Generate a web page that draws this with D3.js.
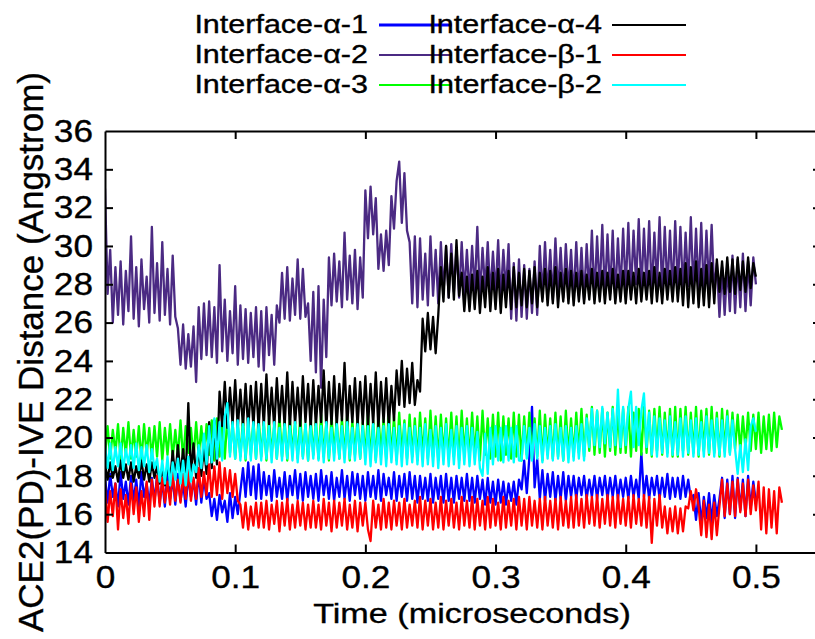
<!DOCTYPE html>
<html><head><meta charset="utf-8">
<script src="https://cdn.jsdelivr.net/npm/d3@7"></script>
<style>
html,body{margin:0;padding:0;background:#fff;}
svg{display:block;}
text{font-family:"Liberation Sans",Arial,Helvetica,sans-serif;fill:#000;stroke:#000;stroke-width:0.35px;}
</style>
</head><body><div id="chart"></div>
<script>
// sampling interval of every series (microseconds)
const timeStep = 0.002;

const seriesNames = ["Interface-α-1","Interface-α-2","Interface-α-3","Interface-α-4","Interface-β-1","Interface-β-2"];
const seriesColors = ["#0000ff","#4b2a83","#00ff00","#000000","#ff0000","#00ffff"];

const alpha1 = [
17.9,16.6,18.1,16.9,17.6,16.4,18.2,16.8,17.7,16.5,18.0,16.7,17.8,16.4,18.2,16.9,17.6,16.5,17.9,16.7,
18.0,16.6,17.7,16.4,18.2,16.8,17.9,16.5,18.1,16.7,17.6,16.4,18.0,16.9,17.8,16.5,18.2,16.6,17.9,16.8,
17.1,15.9,16.8,15.7,17.0,16.1,16.7,15.6,17.1,15.8,16.9,16.0,17.2,18.4,16.9,18.7,17.0,18.5,16.8,18.6,
16.8,18.2,17.0,18.0,16.7,18.3,16.9,17.9,16.8,18.2,16.7,18.0,17.0,18.3,16.8,18.1,16.7,18.2,16.9,18.0,
16.8,18.1,16.7,18.3,17.0,18.0,16.8,18.2,16.7,17.9,16.9,18.3,16.8,18.0,16.7,18.2,17.0,18.1,16.8,18.0,
16.7,18.2,16.9,18.0,16.8,18.3,16.7,18.1,17.0,17.9,16.8,18.2,16.7,18.0,16.9,18.1,16.7,18.2,16.8,18.0,
16.6,18.0,16.8,17.9,16.7,18.1,16.6,17.9,16.8,18.0,16.6,18.1,16.7,17.9,16.6,18.0,16.8,17.9,16.7,18.1,
16.7,17.9,16.6,18.0,16.8,17.8,16.5,17.9,16.6,17.7,16.5,17.8,16.6,17.7,16.5,17.6,16.7,17.7,16.5,17.8,
17.3,18.8,17.1,19.0,21.6,17.4,18.9,16.8,18.3,16.7,18.1,16.9,18.2,16.7,18.0,16.8,18.2,16.7,18.0,16.9,
18.0,16.8,17.9,17.0,18.0,16.8,17.8,16.9,18.0,16.8,17.9,17.0,18.0,16.8,17.9,16.9,18.0,16.8,17.8,16.9,
17.9,16.8,18.0,16.9,17.8,16.8,19.2,16.9,18.0,16.8,17.9,17.0,18.0,16.8,17.9,16.9,18.1,16.8,17.9,16.9,
17.9,16.8,18.0,16.9,17.8,16.8,17.0,15.7,17.1,15.5,16.9,15.8,17.1,15.6,17.0,15.9,16.8,17.9,15.8,17.8,
16.0,18.0,15.8,17.9,16.2,17.8,15.9,18.0,16.3,17.7,16.6];

const alpha2 = [
33.0,27.5,29.8,26.0,28.9,26.4,29.2,25.9,28.7,26.6,30.5,26.2,28.9,25.8,29.3,26.7,28.4,26.0,31.0,26.5,
29.1,26.1,30.2,26.4,28.8,25.9,29.5,26.3,25.7,23.8,25.9,23.6,25.4,23.7,25.8,22.9,26.8,24.1,27.0,24.3,
27.1,24.2,26.8,23.9,29.0,24.5,27.2,24.0,26.6,24.4,27.9,23.8,26.9,24.1,26.7,23.9,26.5,24.2,26.8,23.7,
26.6,23.5,26.8,24.3,26.4,23.8,26.9,26.0,28.6,26.2,28.9,26.1,28.3,26.4,29.3,26.2,28.8,26.3,27.0,24.0,
27.6,23.4,27.9,22.6,27.2,24.2,29.4,26.9,29.6,27.1,29.2,26.8,30.7,27.2,29.5,27.0,29.8,26.7,29.4,27.3,
32.9,30.4,33.1,30.6,32.5,28.8,30.6,28.7,30.8,29.0,32.6,30.9,33.4,34.4,31.2,33.8,30.8,30.2,27.0,30.5,
26.8,30.4,27.2,29.6,26.9,30.5,27.4,29.8,27.0,30.2,27.5,30.0,27.3,30.1,27.6,29.9,27.3,30.2,27.5,29.8,
27.4,30.0,27.6,31.0,27.3,29.9,27.7,30.2,27.4,29.7,27.5,30.3,27.2,29.8,27.6,30.1,26.2,29.1,26.1,29.3,
26.3,29.0,26.2,28.8,26.5,29.2,26.4,30.0,27.3,30.2,27.4,29.8,27.2,30.4,27.5,29.9,27.3,30.1,27.6,29.8,
27.3,30.2,27.4,29.9,27.2,30.1,27.5,30.8,27.3,30.5,27.6,31.1,27.4,30.6,27.5,30.8,27.3,30.4,27.6,30.9,
27.7,31.2,27.5,30.8,28.0,31.4,27.6,30.9,27.8,31.3,27.5,30.7,27.9,31.5,27.6,31.0,27.7,30.8,27.5,31.3,
27.8,31.0,27.6,30.7,27.9,31.5,27.6,30.9,27.7,31.2,27.5,30.8,27.8,31.1,27.6,29.1,26.3,28.9,26.4,29.0,
26.6,29.5,26.5,29.3,26.8,29.6,26.6,29.2,26.9,29.4,28.0];

const alpha3 = [
19.0,20.6,18.9,20.4,19.2,20.7,18.8,20.5,19.1,20.8,18.9,20.4,19.0,20.6,18.8,20.7,19.1,20.5,18.9,20.6,
19.0,20.8,18.8,20.5,19.1,20.7,18.9,20.4,19.0,20.9,18.8,20.6,19.2,20.5,18.9,20.8,19.0,20.6,18.8,20.7,
19.1,20.9,18.8,21.0,19.0,20.7,18.9,21.1,19.2,20.8,18.9,20.7,19.0,21.0,18.8,20.8,19.1,20.9,18.9,21.1,
19.0,20.8,18.8,21.0,19.1,20.7,18.9,21.1,19.0,20.9,18.8,21.0,19.2,20.8,18.9,21.1,19.0,20.7,18.8,21.0,
19.1,20.9,18.9,21.2,19.0,20.8,18.8,21.1,19.2,20.9,18.9,21.0,19.0,21.2,18.8,20.9,19.1,21.1,18.9,20.8,
19.0,21.3,18.9,20.9,18.8,21.2,19.1,21.0,18.9,21.4,19.0,21.1,18.8,21.3,19.1,20.9,18.9,21.2,19.0,21.0,
18.8,21.3,19.1,21.0,18.9,21.4,19.0,21.1,18.8,21.2,19.1,21.0,18.9,21.3,19.0,21.1,18.8,21.4,19.1,21.0,
18.9,21.3,19.0,21.1,18.8,21.4,19.1,21.0,18.9,21.2,19.0,21.3,18.8,21.1,19.1,21.0,18.9,21.3,19.0,21.2,
18.8,21.1,19.1,21.3,18.9,21.0,19.0,21.4,18.8,21.2,19.1,21.0,18.9,21.3,19.0,21.1,18.8,21.4,19.1,21.0,
19.0,21.3,19.2,21.5,19.0,21.2,19.3,21.6,19.1,21.4,19.2,21.5,19.0,21.3,19.3,21.6,19.1,21.4,19.2,21.5,
19.2,21.6,19.0,21.3,19.3,21.5,19.1,21.6,19.2,21.4,19.0,21.5,19.3,21.6,19.1,21.3,19.2,21.5,19.0,21.6,
19.0,21.5,19.3,21.6,19.1,21.3,19.2,21.6,19.0,21.4,19.3,21.5,19.1,21.6,19.2,21.3,19.0,21.5,19.3,21.4,
19.2,21.3,19.4,21.2,19.3,21.1,19.4,21.3,19.3,21.2,19.4,21.3,19.2,21.1,19.4,21.2,19.3,21.3,19.5,21.1,
20.4];

const alpha4 = [
18.6,17.8,18.7,17.9,18.5,17.7,18.8,17.9,18.6,17.8,18.7,17.7,18.5,17.9,18.8,17.8,18.6,17.7,18.7,17.9,
18.5,17.6,18.4,17.5,18.6,17.7,19.3,17.9,19.6,18.0,19.4,17.9,21.8,18.1,19.7,17.9,19.5,18.0,19.6,18.1,
20.8,18.4,20.9,18.6,22.4,20.6,22.9,20.5,22.6,20.7,23.0,20.5,22.5,20.6,22.8,20.4,22.7,20.6,22.9,20.5,
22.8,20.6,23.3,20.7,22.6,20.5,23.1,20.8,22.7,20.6,23.4,20.5,22.9,20.7,22.6,20.6,23.2,20.8,22.8,20.5,
23.0,20.6,22.7,20.8,23.5,20.5,22.9,20.7,23.2,20.6,22.8,20.9,23.9,20.6,22.7,20.8,23.1,20.6,22.9,20.7,
23.2,20.6,22.8,20.7,23.4,20.5,22.9,20.8,23.1,20.6,22.7,20.9,23.5,21.7,24.0,21.6,23.6,21.8,23.9,21.7,
23.0,22.4,26.2,24.5,26.5,24.6,26.3,24.4,26.4,28.9,27.1,30.0,27.3,29.6,27.2,30.3,27.4,28.6,26.6,28.4,
26.6,28.5,26.7,28.7,26.5,28.4,26.8,28.9,26.6,28.6,26.7,28.8,26.5,28.5,26.8,28.7,26.7,28.9,26.8,28.6,
26.9,28.8,26.8,28.7,27.0,28.9,26.8,28.6,27.1,28.8,26.9,28.7,27.0,28.9,26.8,28.6,27.1,28.8,27.0,28.7,
26.9,28.6,27.1,28.7,27.0,28.5,27.2,28.8,27.0,28.6,27.1,28.7,27.0,28.6,27.2,28.8,27.0,28.5,27.1,28.7,
27.0,28.7,27.2,28.6,27.0,28.8,27.1,28.6,27.2,28.7,27.0,28.9,27.1,28.6,27.0,28.8,27.2,28.7,27.1,28.9,
27.1,28.8,26.9,29.1,26.8,28.9,27.0,29.2,26.8,28.8,26.9,29.0,26.8,29.1,27.0,29.3,27.6,29.2,27.5,29.4,
27.6,29.3,27.5,29.4,27.7,29.2,27.6,29.4,27.8,29.1,28.4];

const beta1 = [
17.5,15.6,17.2,15.9,17.6,15.2,17.3,15.8,17.0,15.5,17.6,16.0,17.4,15.6,17.2,15.9,17.7,15.7,17.8,16.4,
18.0,16.4,17.9,16.6,17.7,16.5,18.2,16.7,17.8,16.6,18.1,16.8,18.3,16.7,17.9,16.8,18.4,16.9,18.2,17.0,
18.6,16.9,18.5,17.0,18.7,16.8,18.4,17.1,18.3,16.9,18.1,16.7,16.5,15.3,16.6,15.2,16.4,15.4,16.6,15.3,
16.6,15.3,16.7,15.2,16.5,15.5,16.7,15.1,16.6,15.4,16.8,15.2,16.5,15.3,16.7,15.4,16.6,15.2,16.5,15.3,
16.7,15.3,16.5,15.2,16.8,15.4,16.6,15.1,16.7,15.3,16.6,15.4,16.8,15.2,16.5,15.3,16.7,15.1,16.6,15.4,
16.6,15.2,14.6,16.7,15.3,16.5,15.2,16.8,15.3,16.6,15.2,16.7,15.4,16.6,15.2,16.8,15.3,16.5,15.4,16.7,
15.3,16.9,15.2,16.7,15.4,16.8,15.2,16.6,15.3,16.9,15.2,16.7,15.4,16.8,15.3,16.6,15.2,16.9,15.4,16.7,
15.3,16.9,15.2,16.8,15.4,16.7,15.2,16.9,15.3,16.8,15.4,16.6,15.2,16.9,15.3,16.7,15.4,16.8,15.2,16.9,
15.4,16.8,15.2,16.9,15.4,16.7,15.3,16.8,15.2,16.9,15.4,16.7,15.3,16.8,15.2,16.9,15.4,16.7,15.3,16.9,
15.3,17.0,15.4,16.8,15.3,17.0,15.5,16.9,15.4,17.0,15.3,16.8,15.5,17.0,15.4,16.9,15.3,17.0,15.5,16.8,
15.4,16.9,15.3,17.0,15.5,16.8,15.4,17.0,15.3,16.9,14.5,16.8,15.4,17.0,15.3,16.4,15.0,16.3,15.1,16.4,
15.0,16.3,15.1,16.4,16.3,17.2,16.2,17.3,16.4,14.9,16.7,14.8,16.5,14.7,16.6,14.9,16.4,17.8,15.9,17.6,
16.0,17.7,15.9,17.8,16.1,17.6,15.9,17.8,16.0,17.5,16.2,17.7,15.2,17.4,15.0,17.3,15.3,17.2,15.0,17.4,
16.6];

const beta2 = [
19.6,18.4,19.7,18.3,19.5,18.5,19.7,18.3,19.4,18.6,19.6,18.4,19.7,18.3,19.5,18.5,19.6,18.2,19.4,18.4,
18.9,17.7,18.8,17.6,19.0,17.5,18.7,17.8,18.9,17.6,18.8,17.5,19.0,17.7,18.6,18.2,19.6,18.4,20.2,18.6,
20.6,18.7,21.0,18.9,20.8,18.8,21.1,21.8,19.0,20.8,18.9,20.9,18.8,20.7,18.9,21.0,18.8,20.8,18.9,20.7,
18.8,20.8,18.9,20.6,18.7,20.8,18.9,20.5,18.8,20.7,18.9,20.6,18.8,20.8,18.7,20.5,18.9,20.7,18.8,20.6,
18.9,20.7,18.8,20.6,18.7,20.8,18.9,20.5,18.8,20.7,18.9,20.6,18.7,20.8,18.9,20.5,18.8,20.7,18.9,20.6,
18.6,20.6,18.5,20.7,18.7,20.5,18.6,20.6,18.5,20.7,18.7,20.5,18.6,20.6,18.5,20.7,18.6,20.5,18.7,20.6,
18.6,20.5,18.5,20.7,18.6,20.4,18.5,20.6,18.4,20.5,18.6,20.7,18.5,20.4,18.6,20.6,18.4,20.5,18.6,20.6,
18.5,20.5,18.6,20.3,18.4,18.0,20.2,18.1,20.5,18.6,20.6,18.8,20.5,18.7,20.6,18.8,20.5,18.7,20.6,18.8,
18.8,20.6,18.9,20.5,18.8,20.7,18.9,20.6,18.7,20.5,18.9,20.6,18.8,20.7,18.9,20.5,18.8,20.6,18.7,20.5,
18.8,20.6,18.9,20.7,18.8,21.0,19.5,21.5,19.6,21.4,19.5,21.6,19.7,21.3,19.5,21.5,19.6,22.5,19.5,21.6,
19.6,21.5,22.4,19.5,21.6,19.6,21.4,22.3,19.5,21.3,19.1,21.1,19.0,21.0,19.2,20.9,19.0,21.1,19.1,20.8,
19.1,21.0,19.0,21.1,19.2,20.9,19.0,21.0,19.1,20.8,19.0,21.1,19.2,20.9,19.0,21.0,19.1,20.9,19.0,21.1,
19.1,20.9,19.4,18.1,19.6,18.2,19.9,18.3,20.6,21.0,20.3];

const seriesValues = [alpha1, alpha2, alpha3, alpha4, beta1, beta2];

const xTicks = [0, 0.1, 0.2, 0.3, 0.4, 0.5];
const xTickLabels = ["0", "0.1", "0.2", "0.3", "0.4", "0.5"];
const yTicks = [14, 16, 18, 20, 22, 24, 26, 28, 30, 32, 34, 36];
const yTickLabels = ["14","16","18","20","22","24","26","28","30","32","34","36"];
const xTitle = "Time (microseconds)";
const yTitle = "ACE2(PD)-IVE Distance (Angstrom)";

(function draw() {
  const W = 815, H = 639;
  const plot = {left: 105, right: 821, top: 131, bottom: 552.5};

  const svg = d3.select("#chart").append("svg").attr("width", W).attr("height", H);
  svg.append("rect").attr("width", W).attr("height", H).attr("fill", "#fff");

  const x = d3.scaleLinear().domain([0, 0.55]).range([plot.left, plot.right]);
  const y = d3.scaleLinear().domain([14, 36]).range([plot.bottom, plot.top]);

  svg.append("clipPath").attr("id", "clip").append("rect")
    .attr("x", plot.left).attr("y", plot.top)
    .attr("width", plot.right - plot.left).attr("height", plot.bottom - plot.top);

  // data lines
  const line = d3.line().x((d, i) => x(i * timeStep)).y(d => y(d));
  const dataG = svg.append("g").attr("clip-path", "url(#clip)");
  seriesValues.forEach((vals, k) => {
    dataG.append("path").datum(vals)
      .attr("d", line)
      .attr("fill", "none")
      .attr("stroke", seriesColors[k])
      .attr("stroke-width", 2.3)
      .attr("stroke-linejoin", "round");
  });

  // axes / border
  const fs = 32;
  const axLeft = svg.append("g").attr("transform", `translate(${plot.left},0)`)
    .call(d3.axisLeft(y).tickValues(yTicks).tickFormat((d, i) => yTickLabels[i]).tickSize(-8).tickSizeOuter(0).tickPadding(12));
  const axBottom = svg.append("g").attr("transform", `translate(0,${plot.bottom})`)
    .call(d3.axisBottom(x).tickValues(xTicks).tickFormat((d, i) => xTickLabels[i]).tickSize(-8).tickSizeOuter(0).tickPadding(13));
  const axTop = svg.append("g").attr("transform", `translate(0,${plot.top})`)
    .call(d3.axisTop(x).tickValues(xTicks).tickFormat("").tickSize(-8).tickSizeOuter(0));
  const axRight = svg.append("g").attr("transform", `translate(${plot.right},0)`)
    .call(d3.axisRight(y).tickValues(yTicks).tickFormat("").tickSize(-8).tickSizeOuter(0));

  [axLeft, axBottom, axTop, axRight].forEach(g => {
    g.selectAll("path.domain").attr("stroke", "#000").attr("stroke-width", 2);
    g.selectAll(".tick line").attr("stroke", "#000").attr("stroke-width", 2);
    g.selectAll("text").attr("font-size", fs).attr("fill", "#000")
      .attr("font-family", '"Liberation Sans",Arial,Helvetica,sans-serif')
      .attr("data-stretch", 1.1);
  });
  [axLeft, axRight].forEach(g => g.selectAll(".tick line").filter(d => d === 14 || d === 36).remove());
  [axTop, axBottom].forEach(g => g.selectAll(".tick line").filter(d => d === 0).remove());

  // titles
  svg.append("text").attr("data-stretch", 1.22)
    .attr("x", 472).attr("y", 623).attr("text-anchor", "middle")
    .attr("font-size", 28).text(xTitle);

  svg.append("text")
    .attr("transform", "translate(43,352) rotate(-90)")
    .attr("text-anchor", "middle").attr("font-size", 35)
    .attr("textLength", 560).attr("lengthAdjust", "spacingAndGlyphs")
    .text(yTitle);

  // legend
  const legRowY = [25, 55, 85];
  const legTextRight = [368, 602];
  const legLineX = [[379, 452], [612, 686]];
  const legend = svg.append("g");
  seriesNames.forEach((name, k) => {
    const col = Math.floor(k / 3), row = k % 3;
    legend.append("text").attr("data-stretch", 1.22)
      .attr("x", legTextRight[col]).attr("y", legRowY[row] + 8)
      .attr("text-anchor", "end").attr("font-size", 25).text(name);
    legend.append("line")
      .attr("x1", legLineX[col][0]).attr("x2", legLineX[col][1])
      .attr("y1", legRowY[row]).attr("y2", legRowY[row])
      .attr("stroke", seriesColors[k]).attr("stroke-width", k === 0 ? 3 : 2);
  });

  // horizontal stretch of horizontal text to mimic the reference rendering
  svg.selectAll("text[data-stretch]").each(function() {
    const len = this.getComputedTextLength();
    const s = +this.getAttribute("data-stretch");
    if (len > 0) d3.select(this).attr("textLength", len * s).attr("lengthAdjust", "spacingAndGlyphs");
  });
})();
</script>
</body></html>
